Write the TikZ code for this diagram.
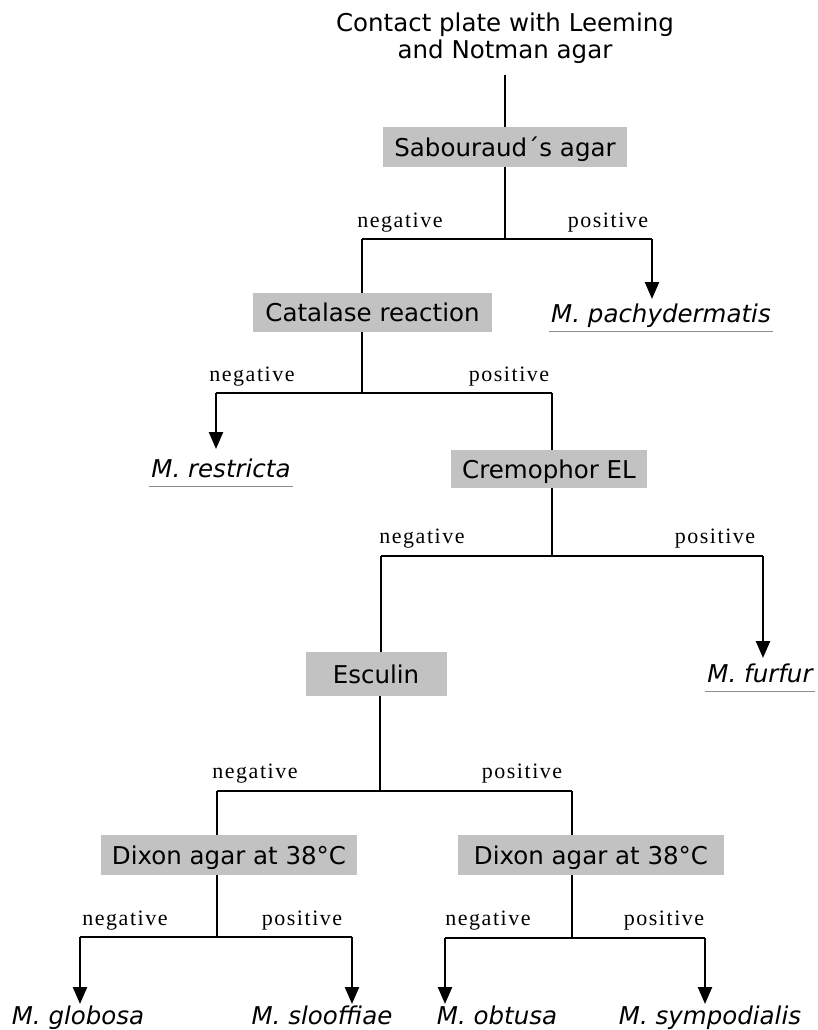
\documentclass[tikz,border=0pt]{standalone}
\usepackage{fontspec}
\setmainfont{Liberation Serif}
\newfontfamily\boxfont{DejaVu Sans}
\newfontfamily\labfont[LetterSpace=7]{Liberation Serif}
\usetikzlibrary{arrows.meta}
\begin{document}
\begin{tikzpicture}[x=1pt,y=-1pt,
  testbox/.style={fill=black!24, inner sep=0pt, font=\boxfont\fontsize{24.5}{28}\selectfont, text height=18pt, text depth=0pt},
  titlenode/.style={font=\boxfont\fontsize{24.5}{27}\selectfont, align=center, inner sep=0pt},
  res/.style={font=\boxfont\itshape\fontsize{24.5}{28}\selectfont, anchor=base, inner sep=0pt},
  lab/.style={font=\labfont\fontsize{22}{24}\selectfont, anchor=base, inner sep=0pt},
  conn/.style={line width=2.4pt},
  arr/.style={line width=2.4pt, -{Triangle[width=14pt,length=17pt]}},
  uline/.style={line width=1pt, black!45}]
\useasboundingbox (0,0) rectangle (817,1030);

% title
\node[titlenode] (title) at (505,38) {Contact plate with Leeming\\and Notman agar};
\coordinate (titleend) at (505,75);

% level 1
\node[testbox, minimum width=244pt, minimum height=40pt] (sab) at (505,147) {Sabouraud´s agar};
\draw[conn] (titleend) -- (sab.north);
\coordinate (s1) at (505,239);
\coordinate (s1n) at (362,239);
\coordinate (s1p) at (652,239);
\draw[conn] (sab.south) -- (s1);
\draw[conn] (s1n) -- (s1p);
\node[lab] (l1n) at (400,227) {negative};
\node[lab] (l1p) at (608,227) {positive};

\node[testbox, minimum width=239pt, minimum height=39pt] (cat) at (372.5,312.5) {Catalase reaction};
\draw[conn] (s1n) -- (s1n |- cat.north);
\coordinate (pachytip) at (652,299);
\draw[arr] (s1p) -- (pachytip);
\node[res] (pachy) at (661,322) {M. pachydermatis};
\draw[uline] ([xshift=-2pt,yshift=-9pt]pachy.base west) -- ([xshift=2pt,yshift=-9pt]pachy.base east);

% level 2
\coordinate (c1) at (362,393);
\coordinate (c1n) at (216,393);
\coordinate (c1p) at (552,393);
\draw[conn] (cat.south -| c1) -- (c1);
\draw[conn] (c1n) -- (c1p);
\node[lab] (l2n) at (252,381) {negative};
\node[lab] (l2p) at (509,381) {positive};
\coordinate (restrtip) at (216,449);
\draw[arr] (c1n) -- (restrtip);
\node[res] (restr) at (221,477) {M. restricta};
\draw[uline] ([xshift=-2pt,yshift=-9pt]restr.base west) -- ([xshift=2pt,yshift=-9pt]restr.base east);

\node[testbox, minimum width=196pt, minimum height=38pt] (crem) at (549,469) {Cremophor EL};
\draw[conn] (c1p) -- (c1p |- crem.north);

% level 3
\coordinate (r1) at (552,556);
\coordinate (r1n) at (381,556);
\coordinate (r1p) at (763,556);
\draw[conn] (crem.south -| r1) -- (r1);
\draw[conn] (r1n) -- (r1p);
\node[lab] (l3n) at (422,543) {negative};
\node[lab] (l3p) at (715,543) {positive};
\coordinate (furtip) at (763,658);
\draw[arr] (r1p) -- (furtip);
\node[res] (furfur) at (760,682) {M. furfur};
\draw[uline] ([xshift=-2pt,yshift=-9pt]furfur.base west) -- ([xshift=2pt,yshift=-9pt]furfur.base east);

\node[testbox, minimum width=141pt, minimum height=44pt] (esc) at (376,674) {Esculin};
\draw[conn] (r1n) -- (r1n |- esc.north);

% level 4
\coordinate (e1) at (380,791);
\coordinate (e1n) at (217,791);
\coordinate (e1p) at (572,791);
\draw[conn] (esc.south -| e1) -- (e1);
\draw[conn] (e1n) -- (e1p);
\node[lab] (l4n) at (255,778) {negative};
\node[lab] (l4p) at (522,778) {positive};

\node[testbox, minimum width=256pt, minimum height=40pt] (dx1) at (229,855) {Dixon agar at 38°C};
\node[testbox, minimum width=266pt, minimum height=40pt] (dx2) at (591,855) {Dixon agar at 38°C};
\draw[conn] (e1n) -- (e1n |- dx1.north);
\draw[conn] (e1p) -- (e1p |- dx2.north);

% level 5 left
\coordinate (d1) at (217,937);
\coordinate (d1n) at (80,937);
\coordinate (d1p) at (352,937);
\draw[conn] (dx1.south -| d1) -- (d1);
\draw[conn] (d1n) -- (d1p);
\node[lab] (l5n) at (125,925) {negative};
\node[lab] (l5p) at (302,925) {positive};
\coordinate (globtip) at (80,1004);
\coordinate (sloftip) at (352,1004);
\draw[arr] (d1n) -- (globtip);
\draw[arr] (d1p) -- (sloftip);
\node[res] (glob) at (78,1024) {M. globosa};
\node[res] (slof) at (322,1024) {M. slooffiae};

% level 5 right
\coordinate (d2) at (572,938);
\coordinate (d2n) at (445,938);
\coordinate (d2p) at (705,938);
\draw[conn] (dx2.south -| d2) -- (d2);
\draw[conn] (d2n) -- (d2p);
\node[lab] (l6n) at (488,925) {negative};
\node[lab] (l6p) at (664,925) {positive};
\coordinate (obttip) at (445,1004);
\coordinate (symtip) at (705,1004);
\draw[arr] (d2n) -- (obttip);
\draw[arr] (d2p) -- (symtip);
\node[res] (obt) at (497,1024) {M. obtusa};
\node[res] (sym) at (710,1024) {M. sympodialis};
\end{tikzpicture}
\end{document}
